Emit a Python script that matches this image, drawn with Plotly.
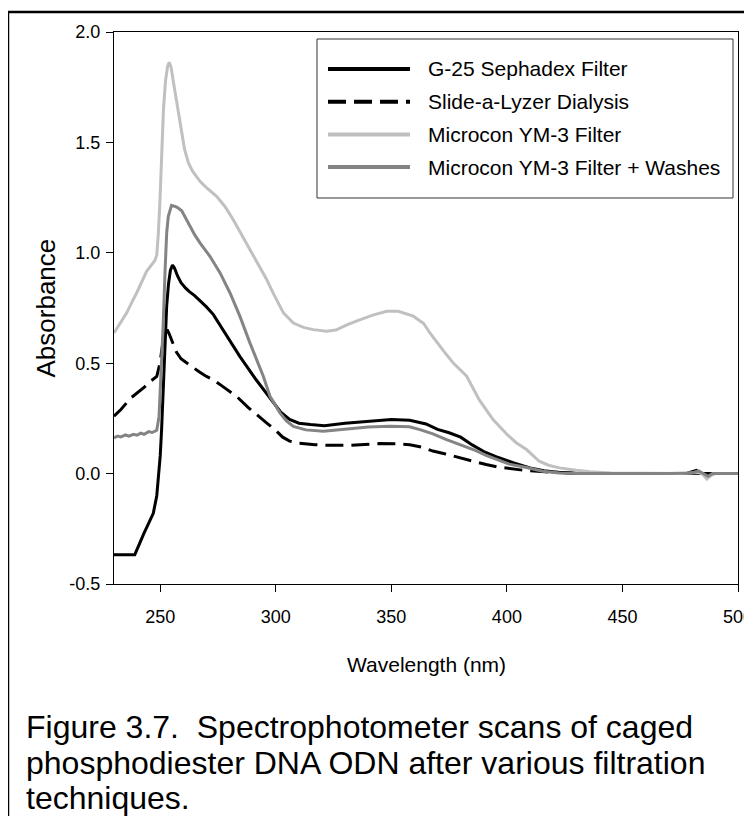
import plotly.graph_objects as go

""" ----------------DADOS---------------- """

# G-25 Sephadex Filter (preto, contínuo)
wl_g25 = [230, 239, 243, 247, 248.5, 249.2, 250.0, 250.6, 251.3, 252.1, 252.8, 253.6,
          254.4, 255.3, 256.2, 257.5, 259, 261, 262.5, 265, 267.5, 270, 273, 276, 279,
          284.5, 291.5, 297.5, 302, 306, 310, 315, 321, 330, 340, 350, 358, 365, 370,
          375, 380, 385, 390, 395, 403, 410, 416, 422, 430, 440, 460, 478, 482, 484,
          490, 500]
abs_g25 = [-0.367, -0.367, -0.27, -0.18, -0.10, -0.03, 0.08, 0.20, 0.38, 0.56, 0.76, 0.86,
           0.92, 0.945, 0.93, 0.895, 0.865, 0.84, 0.825, 0.805, 0.78, 0.755, 0.72, 0.67, 0.62,
           0.53, 0.425, 0.34, 0.28, 0.245, 0.228, 0.222, 0.217, 0.228, 0.238, 0.245, 0.242,
           0.225, 0.20, 0.185, 0.165, 0.13, 0.10, 0.078, 0.048, 0.026, 0.013, 0.006, 0.002,
           0.0, 0.0, 0.002, 0.015, 0.0, 0.0, 0.0]

# Slide-a-Lyzer Dialysis (preto, tracejado)
wl_slide = [230, 233, 237, 240, 243, 246, 248.5, 249.9, 250.8, 252, 253, 254, 255.5, 257,
            259, 261.5, 264, 267, 270, 273, 277, 283, 288, 291, 296, 300, 303, 306, 310,
            317, 322, 332, 345, 352, 358, 363, 368, 373, 380, 386, 391, 396, 401, 408,
            415, 422, 430, 440, 500]
abs_slide = [0.26, 0.29, 0.34, 0.365, 0.39, 0.42, 0.44, 0.50, 0.57, 0.63, 0.652, 0.63, 0.585,
             0.55, 0.52, 0.50, 0.48, 0.46, 0.44, 0.425, 0.395, 0.35, 0.30, 0.275, 0.23, 0.195,
             0.165, 0.147, 0.138, 0.131, 0.128, 0.128, 0.136, 0.135, 0.131, 0.12, 0.102, 0.09,
             0.07, 0.055, 0.041, 0.03, 0.022, 0.014, 0.009, 0.004, 0.001, 0.0, 0.0]

# Microcon YM-3 Filter (cinza claro)
wl_ym3 = [230, 235.5, 238.4, 239.8, 244.1, 246, 247.7, 248.5, 249.2, 249.9, 250.6, 251.4,
          252.3, 253.2, 253.9, 254.7, 255.6, 257.1, 258.2, 259.3, 260.5, 262.2, 264, 267.2,
          270, 274.4, 278, 281.6, 285, 288.8, 292, 296, 299, 303.3, 307.6, 312, 316.2, 322,
          326, 331, 336, 342, 348, 353, 359.5, 364, 366.7, 370, 373, 376.8, 382.6, 388,
          391.2, 394, 400, 404, 408.5, 414, 418, 422.7, 430, 436, 445, 460, 475, 483, 485,
          486.5, 488, 490, 500]
abs_ym3 = [0.637, 0.728, 0.79, 0.818, 0.916, 0.94, 0.965, 0.99, 1.09, 1.24, 1.45, 1.65,
           1.78, 1.845, 1.863, 1.84, 1.78, 1.69, 1.61, 1.543, 1.47, 1.407, 1.37, 1.324,
           1.295, 1.256, 1.21, 1.15, 1.085, 1.014, 0.955, 0.88, 0.815, 0.728, 0.682, 0.662,
           0.652, 0.645, 0.65, 0.675, 0.695, 0.718, 0.735, 0.735, 0.713, 0.68, 0.637, 0.59,
           0.55, 0.501, 0.441, 0.335, 0.29, 0.245, 0.178, 0.14, 0.109, 0.056, 0.038, 0.026,
           0.015, 0.008, 0.003, 0.0, 0.0, 0.005, -0.005, -0.025, -0.01, 0.0, 0.0]

# Microcon YM-3 Filter + Washes (cinza médio)
wl_wash = [230, 231.5, 233, 235, 236.5, 238.4, 240, 241.5, 243, 245, 246.5, 248.5, 249.5,
           250.5, 251.3, 252.1, 252.8, 253.5, 254.9, 256.4, 257.5, 259.3, 262.9, 265, 267.2,
           271.5, 275.9, 280.2, 284.5, 288.8, 294.6, 297.5, 301.8, 304.5, 307.6, 313, 320.6,
           330.7, 340, 349.4, 357.8, 362.4, 368, 373.9, 380, 386.6, 391, 395.5, 401, 408.5,
           415.5, 422.7, 430, 470, 480, 483, 485, 487, 489, 500]
abs_wash = [0.162, 0.17, 0.166, 0.175, 0.17, 0.178, 0.174, 0.183, 0.178, 0.19, 0.186, 0.196,
            0.26, 0.48, 0.68, 0.92, 1.09, 1.165, 1.215, 1.21, 1.205, 1.19, 1.12, 1.08, 1.045,
            0.984, 0.909, 0.818, 0.712, 0.592, 0.441, 0.35, 0.275, 0.24, 0.214, 0.198, 0.192,
            0.202, 0.211, 0.214, 0.212, 0.199, 0.18, 0.154, 0.13, 0.104, 0.082, 0.063, 0.043,
            0.028, 0.011, 0.003, 0.0, 0.0, 0.003, 0.012, 0.0, -0.012, 0.0, 0.0]

nomes = ['G-25 Sephadex Filter', 'Slide-a-Lyzer Dialysis',
         'Microcon YM-3 Filter', 'Microcon YM-3 Filter + Washes']
cores = ['#000000', '#000000', '#c0c0c0', '#848484']
tracos = ['solid', '18px,8px', 'solid', 'solid']

y_ticks = [-0.5, 0.0, 0.5, 1.0, 1.5, 2.0]
y_ticktext = ['-0.5', '0.0', '0.5', '1.0', '1.5', '2.0']

legenda_caption = ['Figure 3.7.\u00a0 Spectrophotometer scans of caged',
                   'phosphodiester DNA ODN after various filtration',
                   'techniques.']

FONTE = 'Liberation Sans, Arial, sans-serif'

""" ----------------GRÁFICO---------------- """

fig = go.Figure()

series = [(wl_g25, abs_g25), (wl_slide, abs_slide), (wl_ym3, abs_ym3), (wl_wash, abs_wash)]
for (x, y), nome, cor, dash in zip(series, nomes, cores, tracos):
    fig.add_trace(go.Scatter(x=x, y=y, mode='lines', name=nome,
                             line=dict(color=cor, width=3, dash=dash)))

# A página tem margem de 8px no body: tudo deslocado de 8px
# Área do gráfico na página: x=114..738, y=32..584
fig.update_layout(
    template='none',
    width=736, height=808,
    margin=dict(l=106, r=6, t=24, b=232),
    plot_bgcolor='white', paper_bgcolor='white',
    showlegend=False,
    font=dict(family=FONTE, color='black'),
)

fig.update_xaxes(range=[230, 500], dtick=50, tick0=250, showgrid=False, zeroline=False,
                 showline=True, linecolor='black', linewidth=1, mirror=True,
                 ticks='outside', ticklen=7, tickcolor='black', automargin=False,
                 tickfont=dict(size=18), ticklabelstandoff=9, ticklabeloverflow='allow')
fig.update_yaxes(range=[-0.5, 2.0], tickvals=y_ticks, ticktext=y_ticktext, showgrid=False,
                 zeroline=False, showline=True, linecolor='black', linewidth=1, mirror=True,
                 ticks='outside', ticklen=7, tickcolor='black', automargin=False,
                 tickfont=dict(size=18), ticklabelstandoff=2)

# Borda da figura (esquerda e topo visíveis)
fig.add_shape(type='rect', xref='paper', yref='paper',
              x0=-0.1699, x1=1.10, y0=-0.50, y1=1.0362,
              line=dict(color='black', width=2.5))

# Legenda manual (caixa, amostras e textos)
fig.add_shape(type='rect', xref='paper', yref='paper',
              x0=0.3253, x1=0.992, y0=0.6993, y1=0.9873,
              line=dict(color='#333333', width=1), fillcolor='white')
for i, (nome, cor, dash) in enumerate(zip(nomes, cores, tracos)):
    y_px = 69 + i * 32.7
    yp = (584 - y_px) / 552
    fig.add_shape(type='line', xref='paper', yref='paper',
                  x0=(328 - 114) / 624, x1=(410 - 114) / 624, y0=yp, y1=yp,
                  line=dict(color=cor, width=4, dash=dash))
    fig.add_annotation(text=nome, xref='paper', yref='paper',
                       x=(426 - 114) / 624, y=yp, xanchor='left', yanchor='middle',
                       showarrow=False, font=dict(size=21))

# Títulos dos eixos
fig.add_annotation(text='Wavelength (nm)', xref='paper', yref='paper',
                   x=0.5, y=(584 - 664) / 552, xanchor='center', yanchor='middle',
                   showarrow=False, font=dict(size=21))
fig.add_annotation(text='Absorbance', xref='paper', yref='paper', textangle=-90,
                   x=(45 - 114) / 624, y=(584 - 308.5) / 552, xanchor='center',
                   yanchor='middle', showarrow=False, font=dict(size=26))

# Legenda da figura
for i, linha in enumerate(legenda_caption):
    y_px = 727 + i * 35.5
    fig.add_annotation(text=linha, xref='paper', yref='paper',
                       x=(24 - 114) / 624, y=(584 - y_px) / 552,
                       xanchor='left', yanchor='middle', showarrow=False,
                       font=dict(size=32))

fig.write_html("out.html")
